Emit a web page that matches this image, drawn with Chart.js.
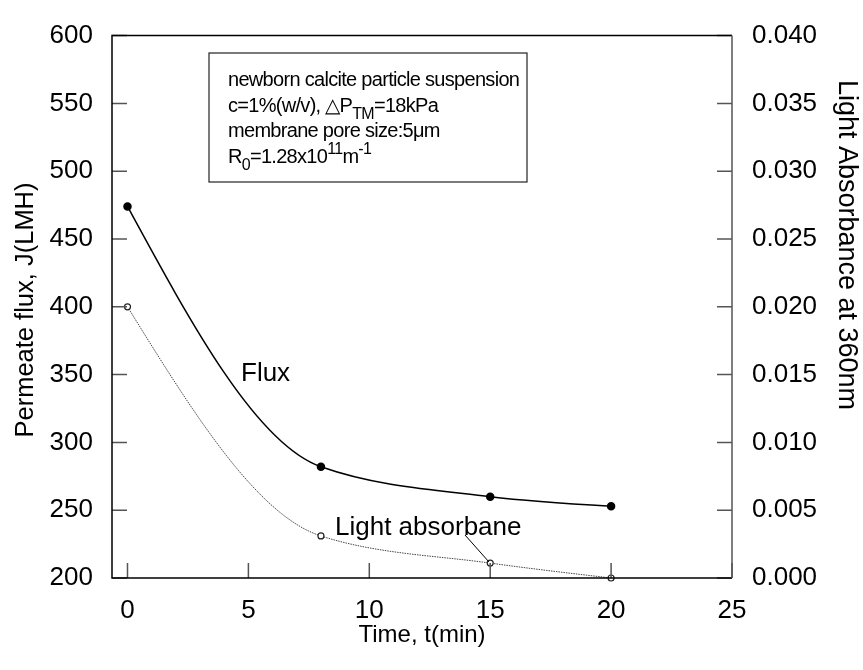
<!DOCTYPE html>
<html>
<head>
<meta charset="utf-8">
<script src="https://cdn.jsdelivr.net/npm/chart.js@4.4.0/dist/chart.umd.min.js"></script>
<style>
  html, body { margin: 0; padding: 0; background: #fff; }
  canvas { display: block; }
</style>
</head>
<body>
<canvas id="fluxChart" width="863" height="670"></canvas>
<script>
// data
const timeMin = [0, 8, 15, 20];
const fluxValues = [474, 282, 260, 253];
const absorbanceValues = [0.0200, 0.0031, 0.0011, 0.0000];

const timeTicks = [0, 5, 10, 15, 20, 25];
const fluxTicks = [200, 250, 300, 350, 400, 450, 500, 550, 600];
const absorbanceTicks = [0, 0.005, 0.010, 0.015, 0.020, 0.025, 0.030, 0.035, 0.040];

// text box, each line is a list of [text, 'sub'|'sup'|undefined]
const noteLines = [
    [['newborn calcite particle suspension']],
    [['c=1%(w/v), \u25B3P'], ['TM', 'sub'], ['=18kPa']],
    [['membrane pore size:5\u03BCm']],
    [['R'], ['0', 'sub'], ['=1.28x10'], ['11', 'sup'], ['m'], ['-1', 'sup']]
];
const fluxLabel = 'Flux';
const absorbanceLabel = 'Light absorbane';
const xTitle = 'Time, t(min)';
const yTitle = 'Permeate flux, J(LMH)';
const y1Title = 'Light Absorbance at 360nm';

const FONT = "'Liberation Sans', Arial, sans-serif";

// Steffen-type tangents (no overshoot, curved ends like the original spline)
function splineTangents(xs, ys) {
    const n = xs.length;
    const h = [], s = [], m = [];
    for (let i = 0; i < n - 1; i++) {
        h[i] = xs[i + 1] - xs[i];
        s[i] = (ys[i + 1] - ys[i]) / h[i];
    }
    for (let i = 1; i < n - 1; i++) {
        const p = (s[i - 1] * h[i] + s[i] * h[i - 1]) / (h[i - 1] + h[i]);
        m[i] = (Math.sign(s[i - 1]) + Math.sign(s[i])) *
            Math.min(Math.abs(s[i - 1]), Math.abs(s[i]), 0.5 * Math.abs(p)) || 0;
    }
    m[0] = (3 * s[0] - m[1]) / 2;
    m[n - 1] = (3 * s[n - 2] - m[n - 2]) / 2;
    return m;
}

// replace chart.js control points with the ones above
const smoothPlugin = {
    id: 'smooth',
    beforeDatasetDraw(chart, args) {
        const meta = args.meta;
        const line = meta.dataset;
        const pts = meta.data;
        if (!line || pts.length < 3) return;
        line.updateControlPoints(chart.chartArea, 'x');
        const m = splineTangents(pts.map(p => p.x), pts.map(p => p.y));
        pts.forEach((p, i) => {
            const hp = i > 0 ? (p.x - pts[i - 1].x) / 3 : 0;
            const hn = i < pts.length - 1 ? (pts[i + 1].x - p.x) / 3 : 0;
            p.cp1x = p.x - hp;
            p.cp1y = p.y - m[i] * hp;
            p.cp2x = p.x + hn;
            p.cp2y = p.y + m[i] * hn;
        });
        line._path = undefined;
    }
};

// frame, inward tick marks, titles, text box and curve labels
const decorPlugin = {
    id: 'decor',
    afterDraw(chart) {
        const ctx = chart.ctx;
        const a = chart.chartArea;
        const x = chart.scales.x;
        const yL = chart.scales.y;
        const yR = chart.scales.y1;
        const TL = 15;

        ctx.save();
        // tick marks pointing inside
        ctx.lineWidth = 1.5;
        ctx.strokeStyle = '#555';
        ctx.beginPath();
        fluxTicks.forEach(v => {
            const py = yL.getPixelForValue(v);
            ctx.moveTo(a.left, py);
            ctx.lineTo(a.left + TL, py);
        });
        absorbanceTicks.forEach(v => {
            const py = yR.getPixelForValue(v);
            ctx.moveTo(a.right, py);
            ctx.lineTo(a.right - TL, py);
        });
        timeTicks.forEach(v => {
            const px = x.getPixelForValue(v);
            ctx.moveTo(px, a.bottom);
            ctx.lineTo(px, a.bottom - TL);
        });
        ctx.stroke();

        // frame
        ctx.strokeStyle = '#000';
        ctx.lineWidth = 1.5;
        ctx.beginPath();
        ctx.moveTo(a.right, a.top);
        ctx.lineTo(a.left, a.top);
        ctx.lineTo(a.left, a.bottom);
        ctx.lineTo(a.right, a.bottom);
        ctx.stroke();
        ctx.strokeStyle = '#555';
        ctx.beginPath();
        ctx.moveTo(a.right, a.top);
        ctx.lineTo(a.right, a.bottom);
        ctx.stroke();

        // axis titles
        ctx.fillStyle = '#000';
        ctx.textAlign = 'center';
        ctx.textBaseline = 'alphabetic';
        ctx.font = `24px ${FONT}`;
        ctx.fillText(xTitle, (a.left + a.right) / 2, 642);
        ctx.save();
        ctx.font = `25.5px ${FONT}`;
        ctx.translate(33, 310);
        ctx.rotate(-Math.PI / 2);
        ctx.fillText(yTitle, 0, 0);
        ctx.restore();
        ctx.save();
        ctx.font = `27px ${FONT}`;
        ctx.translate(839, 245);
        ctx.rotate(Math.PI / 2);
        ctx.fillText(y1Title, 0, 0);
        ctx.restore();

        // note box
        const bx = 209, by = 53, bw = 318, bh = 129;
        ctx.strokeStyle = '#222';
        ctx.lineWidth = 1.2;
        ctx.strokeRect(bx, by, bw, bh);
        ctx.textAlign = 'left';
        ctx.letterSpacing = '-0.7px';
        noteLines.forEach((line, i) => {
            let cx = bx + 19;
            const base = by + 33 + i * 25.5;
            line.forEach(([txt, kind]) => {
                if (kind) {
                    ctx.font = `16px ${FONT}`;
                    const dy = kind === 'sub' ? 7 : -9;
                    ctx.fillText(txt, cx, base + dy);
                } else {
                    ctx.font = `20px ${FONT}`;
                    ctx.fillText(txt, cx, base);
                }
                cx += ctx.measureText(txt).width;
            });
        });
        ctx.letterSpacing = '0px';

        // curve labels, leader line to the 15 min point
        ctx.font = `26px ${FONT}`;
        ctx.fillText(fluxLabel, 241, 381);
        ctx.fillText(absorbanceLabel, 335, 535);
        ctx.lineWidth = 1;
        ctx.strokeStyle = '#000';
        ctx.beginPath();
        ctx.moveTo(465, 535);
        ctx.lineTo(489, 562);
        ctx.stroke();
        ctx.restore();
    }
};

const ctx = document.getElementById('fluxChart').getContext('2d');
new Chart(ctx, {
    type: 'line',
    data: {
        datasets: [
            {
                label: 'Flux',
                data: timeMin.map((t, i) => ({ x: t, y: fluxValues[i] })),
                yAxisID: 'y',
                borderColor: '#000',
                borderWidth: 1.5,
                tension: 0.4,
                pointRadius: 3.5,
                pointBackgroundColor: '#000',
                pointBorderColor: '#000',
                clip: false
            },
            {
                label: 'Light absorbance',
                data: timeMin.map((t, i) => ({ x: t, y: absorbanceValues[i] })),
                yAxisID: 'y1',
                borderColor: '#444',
                borderWidth: 1,
                borderDash: [1.5, 1],
                tension: 0.4,
                pointRadius: 3,
                pointBorderWidth: 1.2,
                pointBackgroundColor: '#fff',
                pointBorderColor: '#222',
                clip: false
            }
        ]
    },
    options: {
        responsive: false,
        animation: false,
        layout: { padding: { top: 16, left: 0, right: 0, bottom: 0 } },
        plugins: {
            legend: { display: false },
            tooltip: { enabled: false }
        },
        scales: {
            x: {
                type: 'linear',
                min: -0.641,
                max: 25,
                afterBuildTicks: s => { s.ticks = timeTicks.map(v => ({ value: v })); },
                afterFit: s => { s.height = 92; },
                grid: { display: false, drawTicks: false },
                border: { display: false },
                ticks: { color: '#000', font: { family: FONT, size: 26 }, padding: 17 }
            },
            y: {
                position: 'left',
                min: 200,
                max: 600,
                afterBuildTicks: s => { s.ticks = fluxTicks.map(v => ({ value: v })); },
                afterFit: s => { s.width = 112; },
                grid: { display: false, drawTicks: false },
                border: { display: false },
                ticks: { color: '#000', font: { family: FONT, size: 26 }, padding: 19 }
            },
            y1: {
                position: 'right',
                min: 0,
                max: 0.04,
                afterBuildTicks: s => { s.ticks = absorbanceTicks.map(v => ({ value: v })); },
                afterFit: s => { s.width = 131; },
                grid: { display: false, drawTicks: false },
                border: { display: false },
                ticks: {
                    color: '#000',
                    font: { family: FONT, size: 26 },
                    padding: 20,
                    callback: v => Number(v).toFixed(3)
                }
            }
        }
    },
    plugins: [smoothPlugin, decorPlugin]
});
</script>
</body>
</html>
